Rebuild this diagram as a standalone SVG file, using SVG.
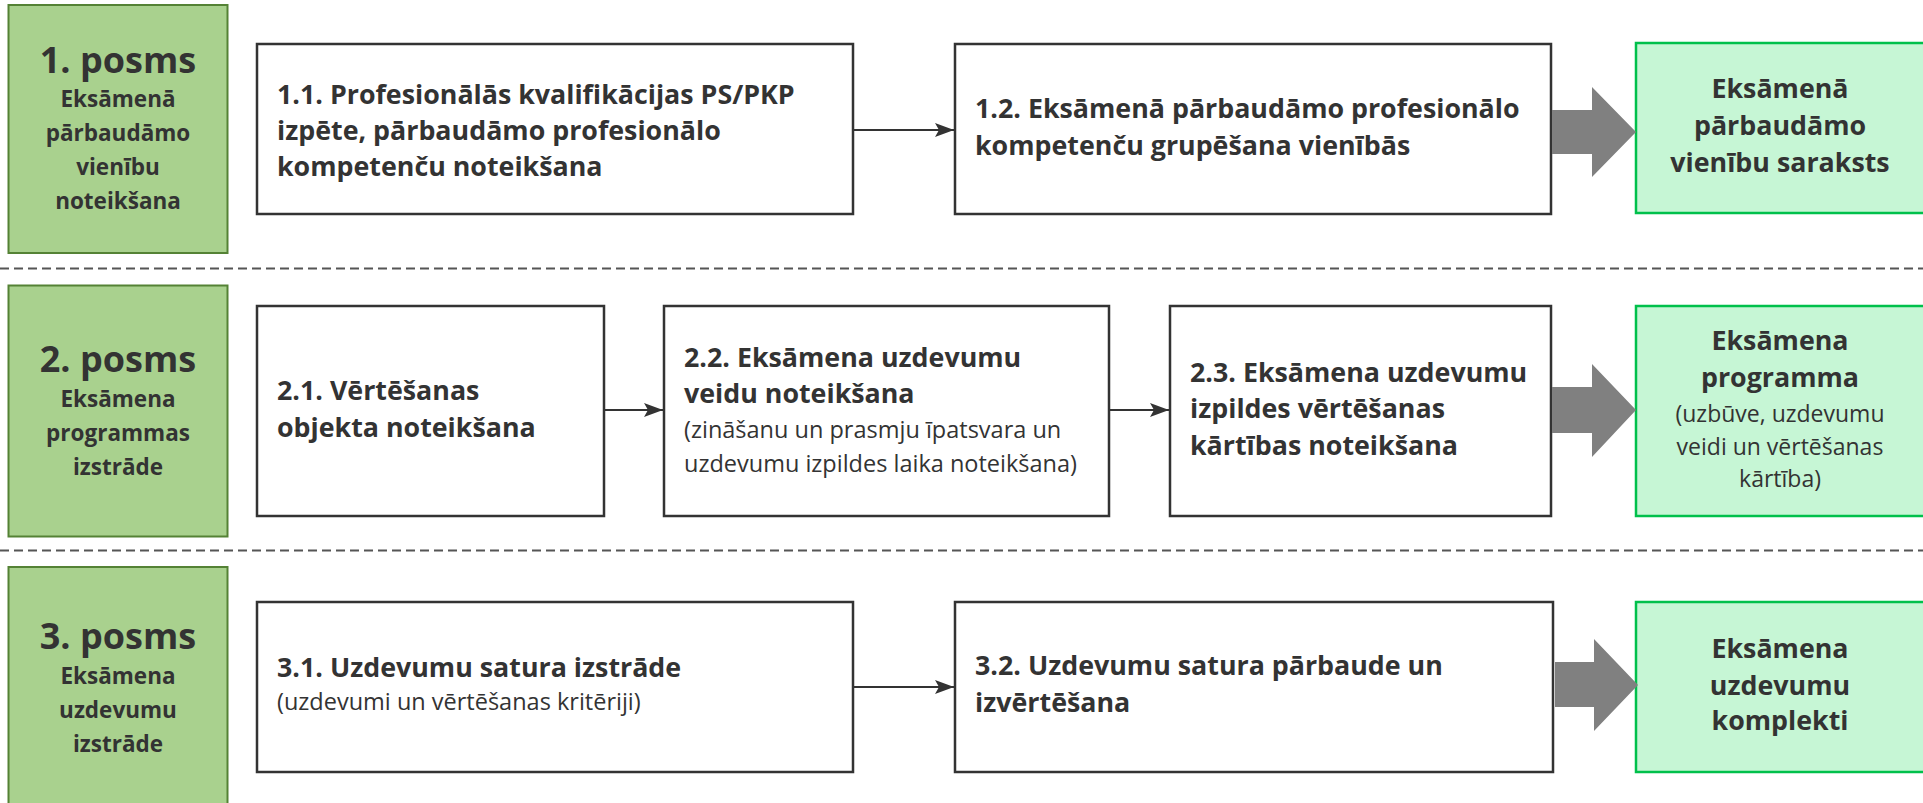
<svg xmlns="http://www.w3.org/2000/svg" width="1923" height="803" viewBox="0 0 1923 803">
<style>
.stage{fill:#a9d18e;stroke:#548235;stroke-width:2}
.box{fill:#ffffff;stroke:#333333;stroke-width:2.5}
.out{fill:#c6f6d5;stroke:#00c04b;stroke-width:2.5}
.big{fill:#808080}
.conn{stroke:#333333;stroke-width:2;fill:none}
.sep{stroke:#555555;stroke-width:2;stroke-dasharray:9 5;fill:none}
text{font-family:"Open Sans","Noto Sans","DejaVu Sans",sans-serif;fill:#333333}
.t{font-size:36px;font-weight:700;text-anchor:middle}
.s{font-size:22.5px;font-weight:700;text-anchor:middle}
.b{font-size:26.8px;font-weight:700}
.bc{font-size:26.8px;font-weight:700;text-anchor:middle}
.n{font-size:23.5px;font-weight:400}
.nc{font-size:23px;font-weight:400;text-anchor:middle}
</style>
<defs>
<marker id="ah" markerWidth="20" markerHeight="14" refX="19" refY="7" orient="auto" markerUnits="userSpaceOnUse">
<path d="M0,0 L19,7 L0,14 L4,7 z" fill="#333333"/>
</marker>
</defs>
<g id="separators">
<line class="sep" x1="0" y1="268.5" x2="1923" y2="268.5"/>
<line class="sep" x1="0" y1="550.5" x2="1923" y2="550.5"/>
</g>
<g id="stage1">
<rect class="stage" x="8.5" y="5" width="219" height="248"/>
<text class="t" x="118" y="73">1. posms</text>
<text class="s" x="118" y="107">Eksāmenā</text>
<text class="s" x="118" y="141">pārbaudāmo</text>
<text class="s" x="118" y="175">vienību</text>
<text class="s" x="118" y="209">noteikšana</text>
</g>
<g id="n11">
<rect class="box" x="257" y="44" width="596" height="170"/>
<text class="b" x="277" y="104">1.1. Profesionālās kvalifikācijas PS/PKP</text>
<text class="b" x="277" y="140">izpēte, pārbaudāmo profesionālo</text>
<text class="b" x="277" y="176">kompetenču noteikšana</text>
</g>
<g id="n12">
<rect class="box" x="955" y="44" width="596" height="170"/>
<text class="b" x="975" y="118">1.2. Eksāmenā pārbaudāmo profesionālo</text>
<text class="b" x="975" y="155">kompetenču grupēšana vienībās</text>
</g>
<g id="out1">
<rect class="out" x="1636" y="43" width="292" height="170"/>
<text class="bc" x="1780" y="98">Eksāmenā</text>
<text class="bc" x="1780" y="135">pārbaudāmo</text>
<text class="bc" x="1780" y="172">vienību saraksts</text>
</g>
<g id="stage2">
<rect class="stage" x="8.5" y="285.5" width="219" height="251"/>
<text class="t" x="118" y="372">2. posms</text>
<text class="s" x="118" y="407">Eksāmena</text>
<text class="s" x="118" y="441">programmas</text>
<text class="s" x="118" y="475">izstrāde</text>
</g>
<g id="n21">
<rect class="box" x="257" y="306" width="347" height="210"/>
<text class="b" x="277" y="400">2.1. Vērtēšanas</text>
<text class="b" x="277" y="437">objekta noteikšana</text>
</g>
<g id="n22">
<rect class="box" x="664" y="306" width="445" height="210"/>
<text class="b" x="684" y="367">2.2. Eksāmena uzdevumu</text>
<text class="b" x="684" y="403">veidu noteikšana</text>
<text class="n" x="684" y="438">(zināšanu un prasmju īpatsvara un</text>
<text class="n" x="684" y="472">uzdevumu izpildes laika noteikšana)</text>
</g>
<g id="n23">
<rect class="box" x="1170" y="306" width="381" height="210"/>
<text class="b" x="1190" y="382">2.3. Eksāmena uzdevumu</text>
<text class="b" x="1190" y="418">izpildes vērtēšanas</text>
<text class="b" x="1190" y="455">kārtības noteikšana</text>
</g>
<g id="out2">
<rect class="out" x="1636" y="306" width="292" height="210"/>
<text class="bc" x="1780" y="350">Eksāmena</text>
<text class="bc" x="1780" y="387">programma</text>
<text class="nc" x="1780" y="422">(uzbūve, uzdevumu</text>
<text class="nc" x="1780" y="455">veidi un vērtēšanas</text>
<text class="nc" x="1780" y="487">kārtība)</text>
</g>
<g id="stage3">
<rect class="stage" x="8.5" y="567" width="219" height="250"/>
<text class="t" x="118" y="649">3. posms</text>
<text class="s" x="118" y="684">Eksāmena</text>
<text class="s" x="118" y="718">uzdevumu</text>
<text class="s" x="118" y="752">izstrāde</text>
</g>
<g id="n31">
<rect class="box" x="257" y="602" width="596" height="170"/>
<text class="b" x="277" y="677">3.1. Uzdevumu satura izstrāde</text>
<text class="n" x="277" y="710">(uzdevumi un vērtēšanas kritēriji)</text>
</g>
<g id="n32">
<rect class="box" x="955" y="602" width="598" height="170"/>
<text class="b" x="975" y="675">3.2. Uzdevumu satura pārbaude un</text>
<text class="b" x="975" y="712">izvērtēšana</text>
</g>
<g id="out3">
<rect class="out" x="1636" y="602" width="292" height="170"/>
<text class="bc" x="1780" y="658">Eksāmena</text>
<text class="bc" x="1780" y="695">uzdevumu</text>
<text class="bc" x="1780" y="730">komplekti</text>
</g>
<g id="connectors">
<line class="conn" x1="853" y1="130" x2="954" y2="130" marker-end="url(#ah)"/>
<line class="conn" x1="604" y1="410" x2="663" y2="410" marker-end="url(#ah)"/>
<line class="conn" x1="1109" y1="410" x2="1169" y2="410" marker-end="url(#ah)"/>
<line class="conn" x1="853" y1="687" x2="954" y2="687" marker-end="url(#ah)"/>
<polygon class="big" points="1552,110 1592,110 1592,87 1636,132 1592,177 1592,154 1552,154"/>
<polygon class="big" points="1552,387 1592,387 1592,364 1636,410 1592,457 1592,433 1552,433"/>
<polygon class="big" points="1555,662 1594,662 1594,639 1638,685 1594,731 1594,707 1555,707"/>
</g>
</svg>
